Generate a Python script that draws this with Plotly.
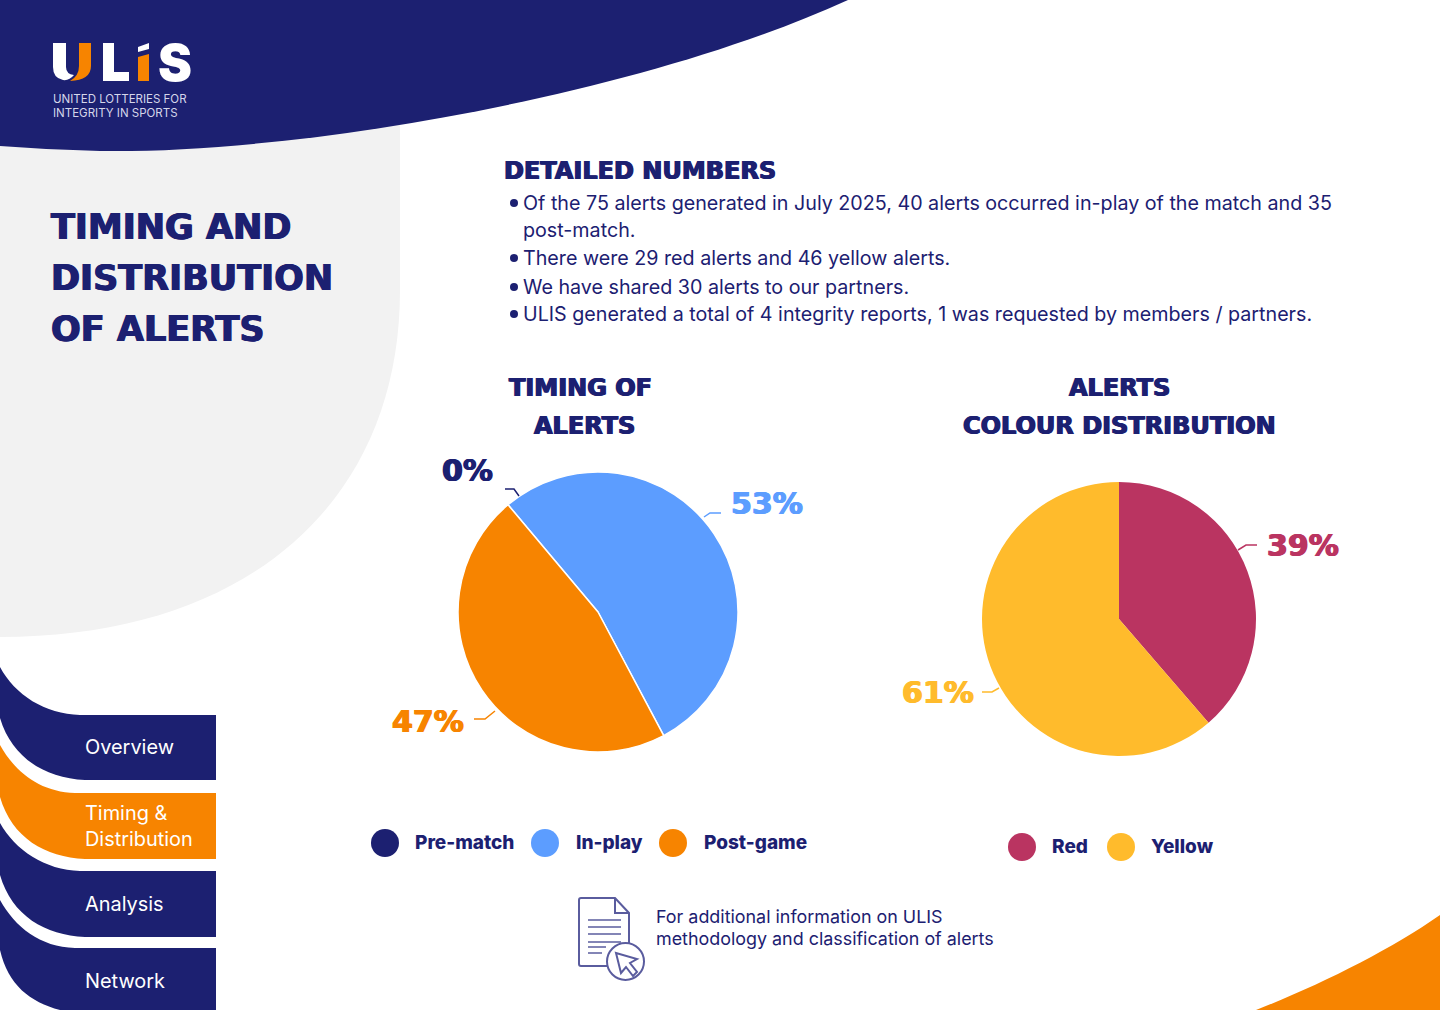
import plotly.io as pio
import plotly.graph_objects as go
pio.templates.default ='plotly_white'

# Colours
navy = '#1C2071'
orange = '#F78400'
blue = '#5C9DFF'
crimson = '#BA3461'
yellow = '#FFBB2C'
grey = '#F2F2F2'
icon = '#5A5C9E'
heading_font = 'DejaVu Sans'
body_font = 'Inter'


# Data for the two pies (alert counts)
timing_labels = ['Pre-match', 'In-play', 'Post-game']
timing_counts = [0, 40, 35]
timing_percent = ['0%', '53%', '47%']

colour_labels = ['Red', 'Yellow']
colour_counts = [29, 46]
colour_percent = ['39%', '61%']


# Page texts
page_title = ['TIMING AND', 'DISTRIBUTION', 'OF ALERTS']
details = ['Of the 75 alerts generated in July 2025, 40 alerts occurred in-play of the match and 35',
           'post-match.',
           'There were 29 red alerts and 46 yellow alerts.',
           'We have shared 30 alerts to our partners.',
           'ULIS generated a total of 4 integrity reports, 1 was requested by members / partners.']
tabs = ['Overview', 'Timing &<br>Distribution', 'Analysis', 'Network']
note = ['For additional information on ULIS', 'methodology and classification of alerts']


fig = go.Figure()

# Empty trace so that the page has x and y axes in pixels
fig.add_trace(go.Scatter(x=[], y=[], showlegend=False))

# Timing of alerts pie
fig.add_trace(go.Pie(labels=timing_labels, values=timing_counts, sort=False, direction='clockwise',
                     rotation=320, textinfo='none', showlegend=False,
                     marker=dict(colors=[navy, blue, orange], line=dict(color='white', width=1.5)),
                     domain=dict(x=[458 / 1440, 738 / 1440], y=[1 - 752 / 1010, 1 - 472 / 1010])))

# Colour distribution pie
fig.add_trace(go.Pie(labels=colour_labels, values=colour_counts, sort=False, direction='clockwise',
                     rotation=0, textinfo='none', showlegend=False,
                     marker=dict(colors=[crimson, yellow]),
                     domain=dict(x=[982 / 1440, 1256 / 1440], y=[1 - 756 / 1010, 1 - 482 / 1010])))


# Background shapes
def add_path(path, fill):
    fig.add_shape(type='path', path=path, fillcolor=fill, line_width=0, layer='below')

add_path('M0 120 H400 V290 C400 500 250 637 0 637 Z', grey)
add_path('M0 0 H848 C640 95 300 154 100 151 Q50 150 0 146 Z', navy)
add_path('M1256 1010 C1320 985 1390 950 1440 915 V1010 Z', orange)

add_path('M0 667 C15 695 45 714 80 715 H216 V780 H85 C45 778 12 758 0 718 Z', navy)
add_path('M0 745 C15 772 40 792 75 793 H216 V859 H85 C45 857 12 838 0 797 Z', orange)
add_path('M0 823 C15 850 45 870 80 871 H216 V937 H85 C45 935 12 916 0 875 Z', navy)
add_path('M0 900 C15 927 40 947 75 948 H216 V1010 H60 C30 1002 8 985 0 950 Z', navy)

# Logo
add_path('M53 43 H66 V67 Q66 74 74 75 Q69 81 63 80 Q53 78 53 67 Z', 'white')
add_path('M79 43 H91 V66 Q91 80 70 81 Q79 76 79 66 Z', orange)
add_path('M103 43 H114 V72 H129 V81 H103 Z', 'white')
add_path('M138 57 L149 54 V81 H138 Z', orange)
add_path('M138 47 L149 43 V49 L138 52 Z', 'white')


# Leader lines of the percent labels
def add_leader(path, colour):
    fig.add_shape(type='path', path=path, line=dict(color=colour, width=1.5))

add_leader('M505 489 H514 L519 496', navy)
add_leader('M704 517 L710 513 H721', blue)
add_leader('M474 719 H485 L495 711', orange)
add_leader('M1238 550 L1246 545 H1257', crimson)
add_leader('M982 692 H992 L999 688', yellow)


# Document icon
fig.add_shape(type='path', line=dict(color=icon, width=2),
              path='M607 966 H581 Q579 966 579 964 V900 Q579 898 581 898 H615 L629 913 V943')
fig.add_shape(type='path', line=dict(color=icon, width=2), path='M615 898 V913 H629')
for y, x1 in [(920, 621), (927, 621), (934, 621), (942, 621), (947, 606), (953, 602)]:
    fig.add_shape(type='line', x0=588, x1=x1, y0=y, y1=y, line=dict(color=icon, width=1.5))
fig.add_shape(type='circle', x0=607, x1=644, y0=943, y1=980, fillcolor='white', line=dict(color=icon, width=2))
fig.add_shape(type='path', line=dict(color=icon, width=2),
              path='M616 953 L637 959 L630 963 L637 972 L633 976 L626 967 L621 973 Z')


# Legend dots
for x, colour in [(385, navy), (545, blue), (673, orange)]:
    fig.add_shape(type='circle', x0=x - 14, x1=x + 14, y0=829, y1=857, fillcolor=colour, line_width=0)
for x, colour in [(1022, crimson), (1121, yellow)]:
    fig.add_shape(type='circle', x0=x - 14, x1=x + 14, y0=833, y1=861, fillcolor=colour, line_width=0)


def add_text(x, y, text, size, colour=navy, weight=400, anchor='left', family=body_font):
    font = dict(family=family, size=size, color=colour, weight=weight)
    if family == heading_font:  # DejaVu bold is lighter than the original, so thicken it
        font['shadow'] = '0.7px 0 0 %s, -0.7px 0 0 %s' % (colour, colour)
    fig.add_annotation(x=x, y=y, text=text, showarrow=False, xanchor=anchor, yanchor='middle', align=anchor,
                       borderpad=0, font=font)


# Logo texts
add_text(157, 62, 'S', 51, colour='white', weight=900, family='Inter')
add_text(52, 99, 'UNITED LOTTERIES FOR', 11.5, colour='#D5D6EA')
add_text(52, 113, 'INTEGRITY IN SPORTS', 11.5, colour='#D5D6EA')

# Title
for y, line in zip([227, 278, 329], page_title):
    add_text(50, y, line, 35, weight=700, family=heading_font)

# Detailed numbers
add_text(503, 171, 'DETAILED NUMBERS', 24, weight=700, family=heading_font)
for y, line in zip([203, 230, 258, 287, 314], details):
    add_text(522, y, line, 19.7)
for y in [203, 258, 287, 314]:
    fig.add_shape(type='circle', x0=510, x1=518, y0=y - 4, y1=y + 4, fillcolor=navy, line_width=0)

# Pie titles
add_text(580, 388, 'TIMING OF', 24, weight=700, anchor='center', family=heading_font)
add_text(584, 426, 'ALERTS', 24, weight=700, anchor='center', family=heading_font)
add_text(1119, 388, 'ALERTS', 24, weight=700, anchor='center', family=heading_font)
add_text(1119, 426, 'COLOUR DISTRIBUTION', 24, weight=700, anchor='center', family=heading_font)

# Percent labels
add_text(467, 470, timing_percent[0], 30, colour=navy, weight=700, anchor='center', family=heading_font)
add_text(767, 503, timing_percent[1], 30, colour=blue, weight=700, anchor='center', family=heading_font)
add_text(428, 721, timing_percent[2], 30, colour=orange, weight=700, anchor='center', family=heading_font)
add_text(1303, 545, colour_percent[0], 30, colour=crimson, weight=700, anchor='center', family=heading_font)
add_text(938, 692, colour_percent[1], 30, colour=yellow, weight=700, anchor='center', family=heading_font)

# Legend labels
for x, label in zip([414, 575, 703], timing_labels):
    add_text(x, 842, label, 19, weight=800, family='Inter')
for x, label in zip([1051, 1150], colour_labels):
    add_text(x, 846, label, 19, weight=800, family='Inter')

# Side tabs
for y, label in zip([747, 826, 904, 980.5], tabs):
    add_text(84, y, label, 19.9, colour='white')

# Note next to the icon
for y, line in zip([916, 938], note):
    add_text(655, y, line, 17.9)


fig.update_layout(width=1440, height=1010, margin=dict(l=0, r=0, t=0, b=0),
                  plot_bgcolor='white', paper_bgcolor='white', showlegend=False)
fig.update_xaxes(range=[0, 1440], visible=False)
fig.update_yaxes(range=[1010, 0], visible=False)
fig.write_html("out.html", config=dict(displayModeBar=False), post_script="document.body.style.margin = '0';")
